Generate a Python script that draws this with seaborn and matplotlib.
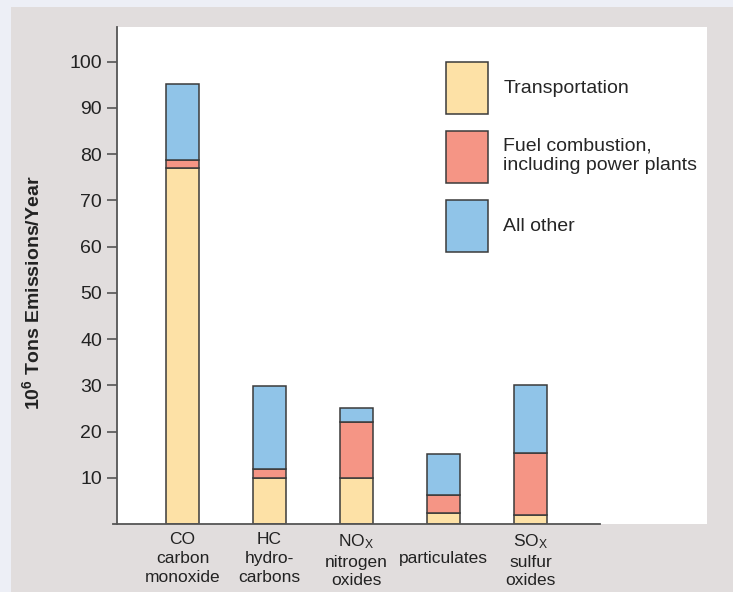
import numpy as np
import pandas as pd
import matplotlib
matplotlib.use("Agg")
import matplotlib.pyplot as plt
from matplotlib.patches import Rectangle, Patch
import seaborn as sns

# Emission sources, 10^6 tons per year
categories = ["CO\ncarbon\nmonoxide", "HC\nhydro-\ncarbons",
              "NO$_\\mathregular{X}$\nnitrogen\noxides", "\nparticulates",
              "SO$_\\mathregular{X}$\nsulfur\noxides"]
transportation = [77.0, 10.0, 10.0, 2.3, 2.0]
fuel_combustion = [1.8, 1.8, 12.0, 3.9, 13.4]
all_other = [16.4, 18.0, 3.0, 9.0, 14.7]

series_names = ["Transportation", "Fuel combustion,\nincluding power plants", "All other"]
series_colors = ["#fde1a6", "#f59585", "#90c4e8"]
yticks = [10, 20, 30, 40, 50, 60, 70, 80, 90, 100]

sns.set_style("white")
plt.rcParams["font.family"] = ["Liberation Sans", "DejaVu Sans"]
plt.rcParams["mathtext.default"] = "regular"

fig = plt.figure(figsize=(7.33, 5.92), dpi=100, facecolor="#edeff6")
# gray panel behind the chart
fig.patches.append(Rectangle((11 / 733, 0), 1, (592 - 7) / 592, transform=fig.transFigure,
                             facecolor="#e1dddd", edgecolor="none", zorder=-10))
ax = fig.add_axes([117 / 733, 68 / 592, 590 / 733, 497 / 592])
ax.set_facecolor("white")

df = pd.DataFrame({"cat": categories, "Transportation": transportation,
                   "Fuel": fuel_combustion, "Other": all_other})
bottom = np.zeros(len(categories))
for col, color in zip(["Transportation", "Fuel", "Other"], series_colors):
    sns.barplot(data=df, x="cat", y=col, bottom=bottom, color=color, saturation=1,
                width=0.38, errorbar=None, edgecolor="#3a3a3a", linewidth=1.1, ax=ax)
    bottom = bottom + df[col].values

ax.set_xlim(-0.753, 6.03)
ax.set_ylim(0, 107.5)
ax.set_yticks(yticks)
ax.set_xlabel("")
ax.set_ylabel("10$^{6}$ Tons Emissions/Year", fontsize=14, fontweight="bold", color="#222")
ax.yaxis.set_label_coords(-0.125, 0.465)

ax.tick_params(axis="y", left=True, length=7.2, width=1.2, color="#555", pad=3.6,
               labelsize=14, labelcolor="#222")
ax.tick_params(axis="x", bottom=False, length=0, pad=6, labelsize=12.5, labelcolor="#222")
for lab in ax.get_xticklabels():
    lab.set_linespacing(1.3)
    lab.set_verticalalignment("top")

for s in ["top", "right"]:
    ax.spines[s].set_visible(False)
for s in ["left", "bottom"]:
    ax.spines[s].set_color("#555")
    ax.spines[s].set_linewidth(1.3)
ax.spines["bottom"].set_bounds(-0.8, 4.8)

handles = [Patch(facecolor=c, edgecolor="#3a3a3a", linewidth=1.1) for c in series_colors]
ax.legend(handles, series_names, loc="upper left", bbox_to_anchor=(0.558, 0.93),
          frameon=False, fontsize=14, handlelength=2.16, handleheight=3.74,
          labelspacing=0.875, handletextpad=0.77, borderpad=0, borderaxespad=0)

fig.savefig("out.png", dpi=100, facecolor=fig.get_facecolor())
